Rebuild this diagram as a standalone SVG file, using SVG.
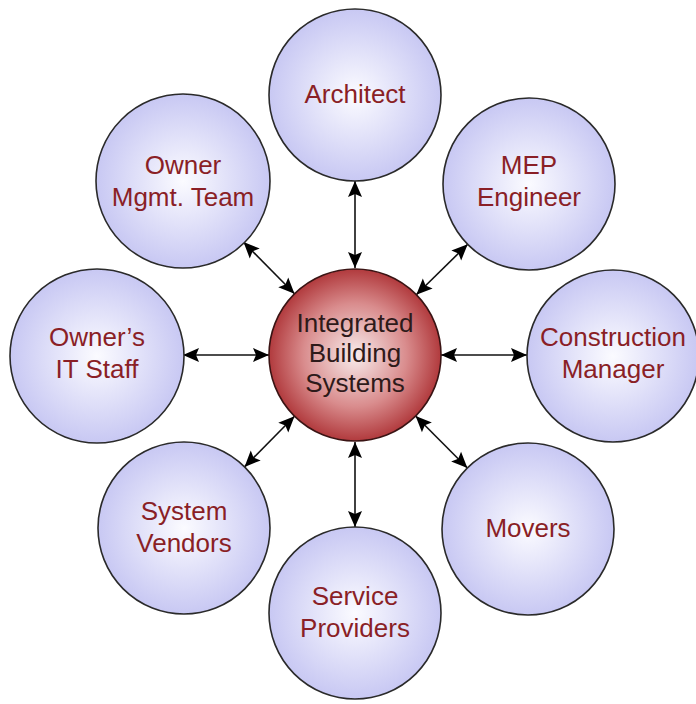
<svg xmlns="http://www.w3.org/2000/svg" width="696" height="704" viewBox="0 0 696 704">
<style>
.outer{fill:url(#gOuter);stroke:#2a2a2a;stroke-width:1.6}
.center{fill:url(#gCenter);stroke:#3a1414;stroke-width:1.6}
.lbl{font-family:"Liberation Sans",Arial,sans-serif;font-size:26px;fill:#8a1f26;text-anchor:middle}
.clbl{font-family:"Liberation Sans",Arial,sans-serif;font-size:26px;fill:#2e1a1a;text-anchor:middle}
.conn line{stroke:#111;stroke-width:1.6;marker-start:url(#arr);marker-end:url(#arr)}
</style>
<defs>
<radialGradient id="gOuter" cx="50%" cy="50%" r="50%">
<stop offset="0" stop-color="#fbfbff"/>
<stop offset="1" stop-color="#c8c8f3"/>
</radialGradient>
<radialGradient id="gCenter" cx="50%" cy="50%" r="50%">
<stop offset="0" stop-color="#f8ecec"/>
<stop offset="0.6" stop-color="#d98c8d"/>
<stop offset="1" stop-color="#b13a3d"/>
</radialGradient>
<marker id="arr" markerUnits="userSpaceOnUse" markerWidth="18" markerHeight="16" refX="16" refY="8" orient="auto-start-reverse">
<path d="M0,1 L16,8 L0,15 L3,8 z" fill="#000"/>
</marker>
</defs>
<rect width="696" height="704" fill="#fff"/>
<g id="connectors" class="conn">
<line x1="355" y1="268" x2="355" y2="181"/>
<line x1="416.3" y1="294.7" x2="467.7" y2="244.3"/>
<line x1="441" y1="355" x2="527" y2="355"/>
<line x1="415.6" y1="416" x2="467.4" y2="468"/>
<line x1="355" y1="442" x2="355" y2="527"/>
<line x1="294.5" y1="416.2" x2="244.5" y2="466.9"/>
<line x1="269" y1="355" x2="183" y2="355"/>
<line x1="294.5" y1="293.8" x2="243.5" y2="242.1"/>
</g>
<g id="architect"><circle class="outer" cx="355" cy="95" r="86"/><text class="lbl" x="355" y="103">Architect</text></g>
<g id="mep"><circle class="outer" cx="529" cy="184" r="86"/><text class="lbl" x="529" y="174">MEP</text><text class="lbl" x="529" y="206">Engineer</text></g>
<g id="construction"><circle class="outer" cx="613" cy="356" r="86"/><text class="lbl" x="613" y="346">Construction</text><text class="lbl" x="613" y="378">Manager</text></g>
<g id="movers"><circle class="outer" cx="528" cy="529" r="86"/><text class="lbl" x="528" y="537">Movers</text></g>
<g id="service"><circle class="outer" cx="355" cy="613" r="86"/><text class="lbl" x="355" y="605">Service</text><text class="lbl" x="355" y="637">Providers</text></g>
<g id="vendors"><circle class="outer" cx="184" cy="528" r="86"/><text class="lbl" x="184" y="520">System</text><text class="lbl" x="184" y="552">Vendors</text></g>
<g id="itstaff"><circle class="outer" cx="97" cy="356" r="87"/><text class="lbl" x="97" y="346">Owner’s</text><text class="lbl" x="97" y="378">IT Staff</text></g>
<g id="ownermgmt"><circle class="outer" cx="183" cy="181" r="87"/><text class="lbl" x="183" y="174">Owner</text><text class="lbl" x="183" y="206">Mgmt. Team</text></g>
<g id="ibs"><circle class="center" cx="355" cy="355" r="86"/><text class="clbl" x="355" y="332">Integrated</text><text class="clbl" x="355" y="362">Building</text><text class="clbl" x="355" y="392">Systems</text></g>
</svg>
